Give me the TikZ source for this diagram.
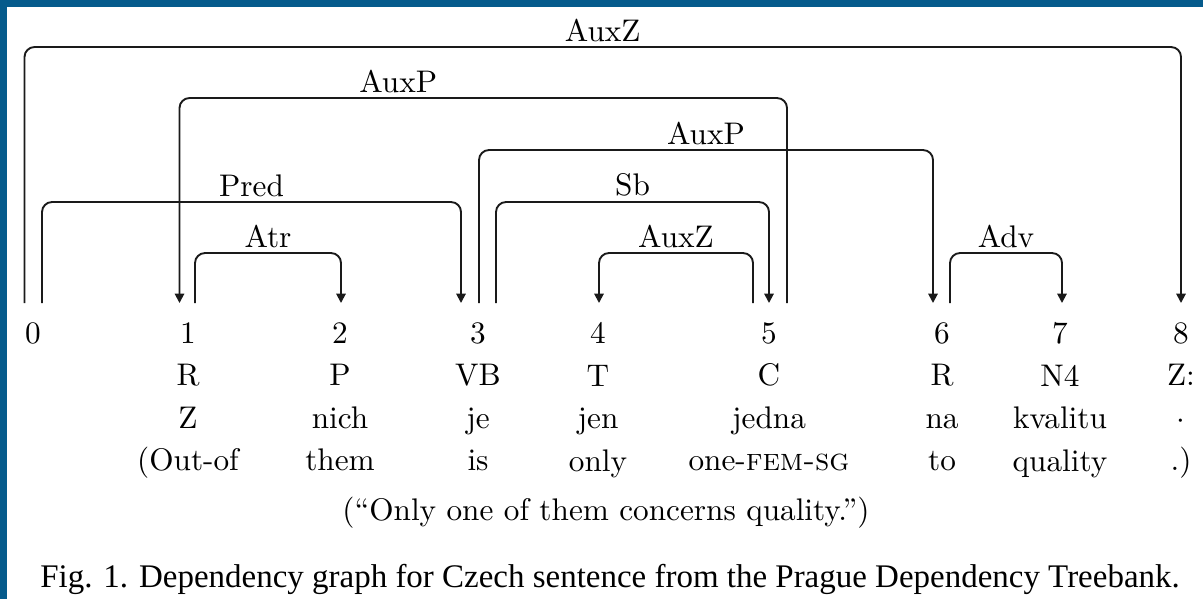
\documentclass[tikz,border=0pt]{standalone}
\usepackage{fontspec}
\newfontfamily\capfont{Liberation Serif}
\usetikzlibrary{positioning, calc, arrows.meta}
\definecolor{colFrame}{HTML}{055B8C}
\definecolor{colLine}{HTML}{1A1A1A}

\begin{document}
\begin{tikzpicture}[
		x=0.32pt, y=-0.32pt,
		font=\fontsize{10}{13.6}\selectfont,
		% Node Styles
		word/.style={anchor=north, align=center, inner xsep=0pt, inner ysep=6pt},
		lbl/.style={above, inner sep=1.5pt},
		dep/.style={line width=0.6pt, draw=colLine, rounded corners=3.2pt},
		arrow/.style={dep, -{Triangle[length=3pt, width=3pt]}}
		]
		\useasboundingbox (0,0) rectangle (1203,599);
		\fill[colFrame] (0,0) rectangle (1203,599);
		\fill[white] (7,7) rectangle (1203,599);
		
		%% ================= WORDS =================
		\node[word] (w0) at (33,303) {0};
		\node[word] (w1) at (188,303) {1\\R\\Z\\(Out-of};
		\node[word] (w2) at (340,303) {2\\P\\nich\\them};
		\node[word] (w3) at (478,303) {3\\VB\\je\\is};
		\node[word] (w4) at (598,303) {4\\T\\jen\\only};
		\node[word] (w5) at (769,303) {5\\C\\jedna\\one-\textsc{fem-sg}};
		\node[word] (w6) at (942,303) {6\\R\\na\\to};
		\node[word] (w7) at (1060,303) {7\\N4\\kvalitu\\quality};
		\node[word] (w8) at (1181,303) {8\\Z:\\$\cdot$\\.)};
		
		\node[anchor=base] (trans) at (606,520) {(``Only one of them concerns quality.'')};
		\node[anchor=base, font=\capfont\fontsize{10.55}{12.5}\selectfont] (caption) at (610,587) {Fig. 1. Dependency graph for Czech sentence from the Prague Dependency Treebank.};
		
		%% ================= DEPENDENCIES =================
		\draw[arrow] ($(w0.north)+(-8.5,0)$) |- node[lbl, pos=0.75] {AuxZ} ($(w8.north)+(0,-256)$) -- (w8.north);
		\draw[arrow] ($(w5.north)+(18,0)$) |- node[lbl, pos=0.82] {AuxP} ($(w1.north)+(-8.5,-205)$) -- ($(w1.north)+(-8.5,0)$);
		\draw[arrow] ($(w3.north)+(1,0)$) |- node[lbl, pos=0.75] {AuxP} ($(w6.north)+(-9,-153)$) -- ($(w6.north)+(-9,0)$);
		\draw[arrow] ($(w0.north)+(9,0)$) |- node[lbl, pos=0.75] {Pred} ($(w3.north)+(-17,-101)$) -- ($(w3.north)+(-17,0)$);
		\draw[arrow] ($(w3.north)+(18,0)$) |- node[lbl, pos=0.75] {Sb} ($(w5.north)+(0,-101)$) -- (w5.north);
		\draw[arrow] ($(w1.north)+(7,0)$) |- node[lbl, pos=0.75] {Atr} ($(w2.north)+(1,-50)$) -- ($(w2.north)+(1,0)$);
		\draw[arrow] ($(w5.north)+(-16,0)$) |- node[lbl, pos=0.75] {AuxZ} ($(w4.north)+(1,-50)$) -- ($(w4.north)+(1,0)$);
		\draw[arrow] ($(w6.north)+(8,0)$) |- node[lbl, pos=0.75] {Adv} ($(w7.north)+(2,-50)$) -- ($(w7.north)+(2,0)$);
		
	\end{tikzpicture}
\end{document}
